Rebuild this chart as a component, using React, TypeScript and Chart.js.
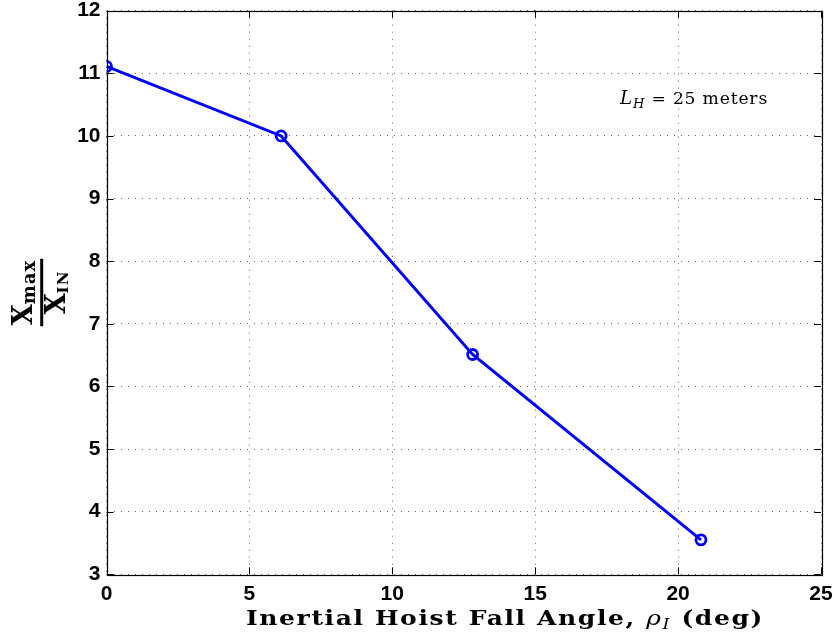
import React, { useEffect, useRef } from "react";
import { Chart, registerables } from "chart.js";

Chart.register(...registerables);

// ---- data ----
const fallAngleDeg = [0, 6.11, 12.81, 20.8];
const xMaxOverXIn = [11.11, 10.0, 6.51, 3.55];
const xTickValues = [0, 5, 10, 15, 20, 25];
const yTickValues = [3, 4, 5, 6, 7, 8, 9, 10, 11, 12];
const annotationText = { main: "L", sub: "H", rest: " = 25 meters" };
const xTitleParts = { pre: "Inertial Hoist Fall Angle, ", sym: "ρ", sub: "I", post: " (deg)" };
const yTitleParts = { num: "X", numSub: "max", den: "X", denSub: "IN" };

type Run = { text: string; font: string; dy?: number };

// Draw runs of text from x, stretched horizontally so they fill targetWidth,
// with a fixed letter spacing (in output pixels).
function drawRuns(
  ctx: CanvasRenderingContext2D,
  runs: Run[],
  x: number,
  y: number,
  targetWidth: number,
  spacing: number
) {
  (ctx as any).letterSpacing = "0px";
  let total = 0;
  let chars = 0;
  for (const r of runs) {
    ctx.font = r.font;
    total += ctx.measureText(r.text).width;
    chars += r.text.length;
  }
  const sx = Math.max(0.7, (targetWidth - spacing * chars) / total);
  const ls = (targetWidth - total * sx) / chars / sx;
  ctx.save();
  ctx.translate(x, y);
  ctx.scale(sx, 1);
  let cx = 0;
  for (const r of runs) {
    ctx.font = r.font;
    (ctx as any).letterSpacing = "0px";
    const w = ctx.measureText(r.text).width;
    (ctx as any).letterSpacing = ls + "px";
    ctx.fillText(r.text, cx, r.dy || 0);
    cx += w + ls * r.text.length;
  }
  (ctx as any).letterSpacing = "0px";
  ctx.restore();
}

const framePlugin = {
  id: "matlabFrame",
  afterDraw(chart: any) {
    const ctx: CanvasRenderingContext2D = chart.ctx;
    const { left, right, top, bottom } = chart.chartArea;
    const xs = chart.scales.x;
    const ys = chart.scales.y;
    ctx.save();
    // box
    ctx.strokeStyle = "#000";
    ctx.lineWidth = 1.2;
    ctx.strokeRect(Math.round(left) + 0.5, Math.round(top) + 0.5, Math.round(right - left), Math.round(bottom - top));
    // inward ticks
    const tl = 7;
    ctx.lineWidth = 1;
    ctx.beginPath();
    for (const v of xTickValues) {
      const px = Math.round(xs.getPixelForValue(v)) + 0.5;
      ctx.moveTo(px, bottom);
      ctx.lineTo(px, bottom - tl);
      ctx.moveTo(px, top);
      ctx.lineTo(px, top + tl);
    }
    for (const v of yTickValues) {
      const py = Math.round(ys.getPixelForValue(v)) + 0.5;
      ctx.moveTo(left, py);
      ctx.lineTo(left + tl, py);
      ctx.moveTo(right, py);
      ctx.lineTo(right - tl, py);
    }
    ctx.stroke();

    ctx.fillStyle = "#000";
    ctx.textBaseline = "alphabetic";
    ctx.textAlign = "left";

    // annotation
    drawRuns(
      ctx,
      [
        { text: annotationText.main, font: "italic 18px 'DejaVu Serif'" },
        { text: annotationText.sub, font: "italic 13px 'DejaVu Serif'", dy: 4 },
        { text: annotationText.rest, font: "17px 'DejaVu Serif'" },
      ],
      620,
      104,
      148,
      0.8
    );

    // x title
    drawRuns(
      ctx,
      [
        { text: xTitleParts.pre, font: "bold 21px 'DejaVu Serif'" },
        { text: xTitleParts.sym, font: "italic 21px 'DejaVu Serif'" },
        { text: xTitleParts.sub, font: "italic 15px 'DejaVu Serif'", dy: 4 },
        { text: xTitleParts.post, font: "bold 21px 'DejaVu Serif'" },
      ],
      246,
      625,
      518,
      1.6
    );

    // y title (fraction, rotated)
    const cy = (top + bottom) / 2;
    const cxBar = 41.7;
    ctx.translate(cxBar, cy);
    ctx.rotate(-Math.PI / 2);
    const bigFont = "bold 27px 'DejaVu Serif'";
    const subFont = "bold 18px 'DejaVu Serif'";
    const subFont2 = "bold 15px 'DejaVu Serif'";
    ctx.font = bigFont;
    const wX = ctx.measureText(yTitleParts.num).width;
    ctx.font = subFont;
    (ctx as any).letterSpacing = "1px";
    const wMax = ctx.measureText(yTitleParts.numSub).width;
    ctx.font = subFont2;
    const wIN = ctx.measureText(yTitleParts.denSub).width;
    (ctx as any).letterSpacing = "0px";
    const numW = wX + wMax;
    const denW = wX + wIN;
    const barW = Math.max(numW, denW) + 2;
    // numerator
    let sx = -numW / 2;
    ctx.font = bigFont;
    ctx.fillText(yTitleParts.num, sx, -9.7);
    ctx.font = subFont;
    (ctx as any).letterSpacing = "1px";
    ctx.fillText(yTitleParts.numSub, sx + wX, -7);
    (ctx as any).letterSpacing = "0px";
    // bar
    ctx.fillRect(-barW / 2, -1.5, barW, 3);
    // denominator
    sx = -denW / 2;
    ctx.font = bigFont;
    ctx.fillText(yTitleParts.den, sx, 23.3);
    ctx.font = subFont2;
    (ctx as any).letterSpacing = "1px";
    ctx.fillText(yTitleParts.denSub, sx + wX, 26);
    (ctx as any).letterSpacing = "0px";
    ctx.restore();
  },
};

export default function App() {
  const canvasRef = useRef<HTMLCanvasElement | null>(null);

  useEffect(() => {
    document.body.style.margin = "0";
    const canvas = canvasRef.current;
    if (!canvas) return;
    const points = fallAngleDeg.map((x, i) => ({ x, y: xMaxOverXIn[i] }));
    const gridColor = "rgba(0,0,0,0.6)";
    const tickFont = { family: "'Liberation Sans', Arial", weight: "bold", size: 21 };
    const chart = new Chart(canvas, {
      type: "line",
      data: {
        datasets: [
          {
            data: points,
            borderColor: "rgb(0,0,255)",
            borderWidth: 3,
            pointRadius: 5,
            pointBorderWidth: 2.8,
            pointBorderColor: "rgb(0,0,255)",
            pointBackgroundColor: "rgba(0,0,0,0)",
            fill: false,
            tension: 0,
          },
        ],
      },
      options: {
        animation: false,
        responsive: true,
        maintainAspectRatio: false,
        layout: { padding: { left: 0, top: 10.7, right: 15, bottom: 0 } },
        plugins: { legend: { display: false }, tooltip: { enabled: false }, title: { display: false } },
        scales: {
          x: {
            type: "linear",
            min: 0,
            max: 25,
            afterFit: (s: any) => {
              s.height = 63.7;
              s.paddingLeft = 0;
              s.paddingRight = 0;
            },
            afterBuildTicks: (s: any) => {
              s.ticks = xTickValues.map((v) => ({ value: v }));
            },
            border: { display: false, dash: [1, 6] },
            grid: { color: gridColor, lineWidth: 1, drawTicks: false },
            ticks: { padding: 7, color: "#000", font: tickFont, maxRotation: 0 },
          },
          y: {
            type: "linear",
            min: 3,
            max: 12,
            afterFit: (s: any) => {
              s.width = 106.5;
              s.paddingTop = 0;
              s.paddingBottom = 0;
            },
            afterBuildTicks: (s: any) => {
              s.ticks = yTickValues.map((v) => ({ value: v }));
            },
            border: { display: false, dash: [1, 6] },
            grid: { color: gridColor, lineWidth: 1, drawTicks: false },
            ticks: { padding: 6, color: "#000", font: tickFont },
          },
        },
      } as any,
      plugins: [framePlugin],
    });
    return () => chart.destroy();
  }, []);

  return (
    <div style={{ position: "absolute", left: 0, top: 0, width: 836, height: 638, background: "#fff" }}>
      <canvas ref={canvasRef} />
    </div>
  );
}
